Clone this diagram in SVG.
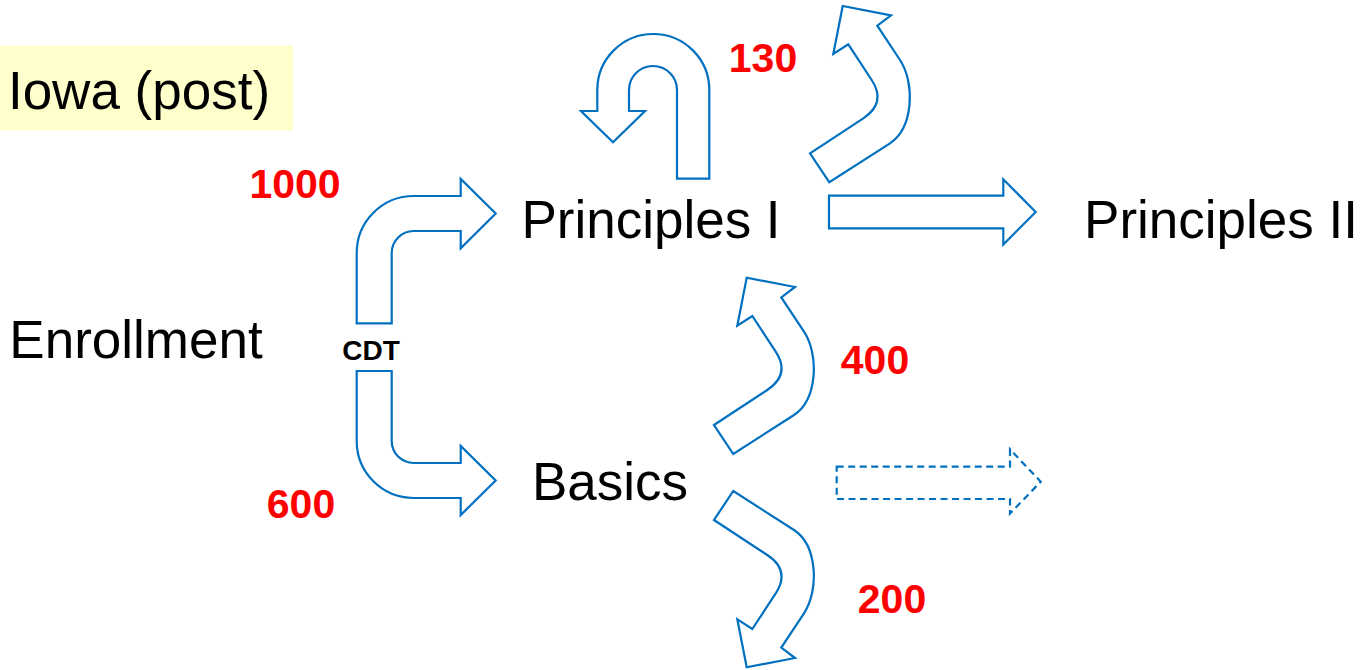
<svg xmlns="http://www.w3.org/2000/svg" xmlns:xlink="http://www.w3.org/1999/xlink" width="1364" height="670" viewBox="0 0 1364 670">
<style>
.arr{fill:#ffffff;stroke:#0070C0;stroke-width:2.2;stroke-linejoin:miter}
.dash{stroke-dasharray:7 4.5}
.lbl{font-family:"Liberation Sans",Arial,sans-serif;font-size:53px;fill:#000;text-anchor:middle}
.num{font-family:"Liberation Sans",Arial,sans-serif;font-size:41px;font-weight:bold;fill:#FF0000;text-anchor:middle}
.cdt{font-family:"Liberation Sans",Arial,sans-serif;font-size:28px;font-weight:bold;fill:#000;text-anchor:middle}
</style>
<defs>
<path id="curved" d="M810,153.3 L863.3,118.3 Q886.7,102.9 871.7,80 L848.3,44.3 L833.3,54 L842.7,6 L891,15.3 L877.3,25.7 L900,60 C915.3,83.4 913.4,128 890,143.3 L829.3,182.3 Z"/>
</defs>
<rect width="1364" height="670" fill="#ffffff"/>
<g id="title">
<rect x="0" y="45.5" width="293" height="85" fill="#FFFFCC"/>
<text class="lbl" x="139" y="109">Iowa (post)</text>
</g>
<g id="connectors">
<path class="arr" d="M356.7,323.3 V253 A57,57 0 0 1 413.7,196 H460.7 V179 L495.7,213.5 L460.7,248.3 V231 H413.7 A22,22 0 0 0 391.7,253 V323.3 Z"/>
<path class="arr" d="M356.7,371 V441 A57,57 0 0 0 413.7,498 H460.7 V515 L495.7,480.5 L460.7,446 V463 H413.7 A22,22 0 0 1 391.7,441 V371 Z"/>
<path class="arr" d="M709.3,178.7 V90 A56,56 0 0 0 597.3,90 V111 H581 L613,142.3 L645,111 H629 V90 A24,24 0 0 1 677,90 V178.7 Z"/>
<use class="arr" xlink:href="#curved"/>
<use class="arr" xlink:href="#curved" transform="translate(-96,271.7)"/>
<use class="arr" xlink:href="#curved" transform="translate(0,945) scale(1,-1) translate(-96,271.7)"/>
<path class="arr" d="M829,195.7 H1003.3 V179.3 L1035.7,212 L1003.3,244.5 V228.3 H829 Z"/>
<path class="arr dash" d="M836.7,466.7 H1010 V449.3 L1040.7,481.7 L1010,513.5 V499 H836.7 Z"/>
</g>
<g id="n-enrollment"><text class="lbl" x="136" y="358">Enrollment</text></g>
<g id="n-cdt"><text class="cdt" x="371" y="360">CDT</text></g>
<g id="n-principles1"><text class="lbl" x="651" y="238">Principles I</text></g>
<g id="n-principles2"><text class="lbl" x="1221" y="238">Principles II</text></g>
<g id="n-basics"><text class="lbl" x="610" y="500">Basics</text></g>
<g id="labels">
<text class="num" x="295" y="198">1000</text>
<text class="num" x="763" y="72">130</text>
<text class="num" x="875" y="374">400</text>
<text class="num" x="301" y="518">600</text>
<text class="num" x="892" y="613">200</text>
</g>
</svg>
